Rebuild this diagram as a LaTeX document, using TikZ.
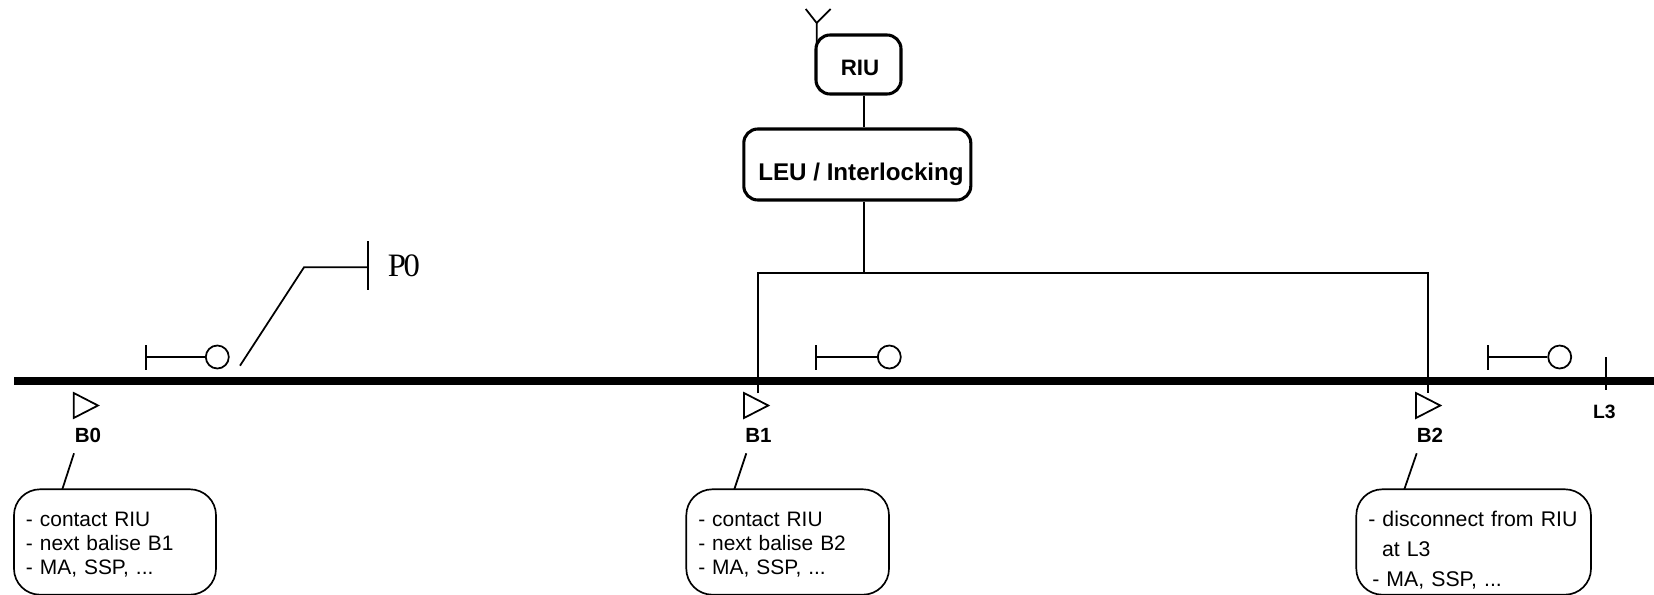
\documentclass[tikz,border=0pt]{standalone}
\usepackage{fontspec}
\setmainfont{Liberation Sans}
\newfontfamily\pointfont{Liberation Serif}
\newlength\px
\setlength\px{0.02cm}
\tikzset{
    wire/.style={line width=0.95pt},
    sym/.style={line width=1pt},
    unitbox/.style={draw, line width=1.75pt, rounded corners=14\px, inner sep=0pt, font=\bfseries},
    notebox/.style={draw, line width=0.95pt, rounded corners=26\px, align=left, inner xsep=12\px, inner ysep=0pt,
        minimum height=105.4\px, text height=0pt, text depth=32\px, font=\fontsize{11.9}{13.9}\selectfont},
    tag/.style={inner sep=0pt, font=\fontsize{11.7}{13}\selectfont\bfseries},
    lamp/.style={circle, draw, sym, fill=white, inner sep=0pt, minimum size=23\px}
}

\begin{document}
\begin{tikzpicture}[x=0.02cm, y=-0.02cm]
    \useasboundingbox (0,0) rectangle (1654,595);

    % --- Track ---
    \draw[line width=4.5pt] (14,381.3) -- (1654,381.3);

    % --- Trackside units ---
    \node[unitbox, minimum width=85\px, minimum height=59\px, text height=21.6\px, text depth=0pt]
        (riu) at (858.5,64.5) {\fontsize{12.7}{14}\selectfont\hspace*{3\px}RIU};
    \node[unitbox, minimum width=227\px, minimum height=71\px, text height=31\px, text depth=0pt]
        (leu) at (857.3,164.5) {\fontsize{13.75}{15}\selectfont\hspace*{7.4\px}LEU / Interlocking};

    % --- Antenna on top of the RIU ---
    \coordinate (antfoot) at (816.7,44);
    \coordinate (antfork) at (816.7,23);
    \draw[sym] (antfoot) -- (antfork) -- (805.7,9);
    \draw[sym] (antfork) -- (830.7,9);

    % --- Cabling from the RIU down to the balises ---
    \coordinate (bus) at (864,273.3);
    \coordinate (dropB1) at (758,393.3);
    \coordinate (dropB2) at (1428,393.3);
    \draw[wire] (bus |- riu.south) -- (bus |- leu.north);
    \draw[wire] (bus |- leu.south) -- (bus);
    \draw[wire] (dropB1) -- (dropB1 |- bus) -- (dropB2 |- bus) -- (dropB2);

    % --- Signals ---
    \foreach \sig/\xa/\xb in {sigA/146/217.3, sigB/816/889.3, sigC/1488.3/1559.7} {
        \node[lamp] (\sig) at (\xb,357) {};
        \coordinate (\sig bar) at (\xa,357);
        \draw[sym] (\sig bar) -- (\sig);
        \draw[sym] (\xa,345) -- (\xa,370);
    }

    % --- Balises: triangle, name and leader to the note below ---
    \foreach \bal/\xa/\xb/\xc/\xd in {B0/73.7/88/74/62.3, B1/744/758.5/746.3/734.3, B2/1416/1430/1416.7/1404.3} {
        \draw[sym] (\xa,393) -- (\xa,418) -- (\xa+24.3,405.5) -- cycle;
        \node[tag] (\bal) at (\xb,435) {\bal};
        \coordinate (lead\bal) at (\xc,453.3);
        \coordinate (foot\bal) at (\xd,489.3);
        \draw[sym] (lead\bal) -- (foot\bal);
    }

    % --- Notes ---
    \node[notebox, text width=178\px] (noteB0) at (115,542)
        {- contact RIU\\- next balise B1\\- MA, SSP, ...};
    \node[notebox, text width=178.7\px] (noteB1) at (787.65,542)
        {- contact RIU\\- next balise B2\\- MA, SSP, ...};
    \node[notebox, text width=210.7\px, font=\fontsize{12.1}{13.9}\selectfont] (noteB2) at (1473.65,542)
        {- disconnect from RIU\\[3.7pt]\hspace*{13.7\px}at L3\\[2.8pt]\hspace*{4\px}- MA, SSP, ...};

    % --- Point P0 with its leader ---
    \coordinate (leadP) at (240,365.7);
    \coordinate (kneeP) at (304,267.3);
    \coordinate (endP) at (368,267.3);
    \draw[sym] (leadP) -- (kneeP) -- (endP);
    \draw[sym] (368,241) -- (368,290);
    \node[inner sep=0pt, font=\pointfont\fontsize{18.6}{20}\selectfont] (P0) at (404,266) {P\kern-1.4pt 0};

    % --- Limit L3 ---
    \coordinate (tickL) at (1606.3,357.3);
    \draw[sym] (tickL) -- (1606.3,390);
    \node[tag, font=\fontsize{11}{13}\selectfont\bfseries] (L3) at (1604.3,412.3) {L3};
\end{tikzpicture}
\end{document}
